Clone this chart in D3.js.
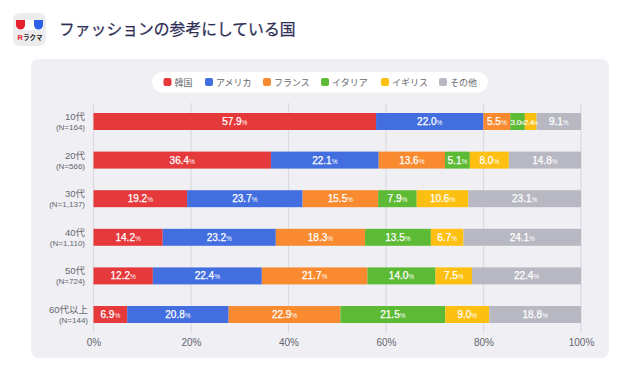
<!DOCTYPE html>
<html><head><meta charset="utf-8">
<script src="https://d3js.org/d3.v7.min.js"></script>
<style>html,body{margin:0;padding:0;background:#fff}svg{display:block}text{font-family:"Liberation Sans","Noto Sans CJK JP",sans-serif}</style>
</head><body><svg id="c" width="640" height="372"></svg>
<script>
const titleText = "ファッションの参考にしている国";
const seriesNames = ["韓国","アメリカ","フランス","イタリア","イギリス","その他"];
const seriesColors = ["#e5393b","#436ee0","#f98a2f","#5dba34","#fdc010","#b8b8c2"];
const ageLabels = ["10代","20代","30代","40代","50代","60代以上"];
const sampleLabels = ["(N=164)","(N=566)","(N=1,137)","(N=1,110)","(N=724)","(N=144)"];
const korea = [57.9,36.4,19.2,14.2,12.2,6.9];
const america = [22.0,22.1,23.7,23.2,22.4,20.8];
const france = [5.5,13.6,15.5,18.3,21.7,22.9];
const italy = [3.0,5.1,7.9,13.5,14.0,21.5];
const britain = [2.4,8.0,10.6,6.7,7.5,9.0];
const other = [9.1,14.8,23.1,24.1,22.4,18.8];
const seriesValues = [korea,america,france,italy,britain,other];
const tickValues = [0,20,40,60,80,100];

const svg = d3.select("#c");
svg.append("rect").attr("x",31).attr("y",59).attr("width",578).attr("height",299).attr("rx",8).attr("fill","#efeff4");

// logo
const logo = svg.append("g");
logo.append("rect").attr("x",13).attr("y",13).attr("width",33).attr("height",33).attr("rx",7).attr("fill","#ececee");
logo.append("rect").attr("x",16).attr("y",20).attr("width",27).attr("height",10).attr("fill","#fff");
logo.append("path").attr("d","M16 20h9v5a4.500 4.500 0 0 1-9 0z").attr("fill","#e3202c");
logo.append("path").attr("d","M34 20h9v5a4.500 4.500 0 0 1-9 0z").attr("fill","#2d62e8");
logo.append("text").attr("x",17.500).attr("y",40).attr("font-size",7.500).attr("font-weight",700).attr("fill","#e3202c").text("R");
logo.append("text").attr("x",23).attr("y",40).attr("font-size",6.500).attr("font-weight",700).attr("fill","#222").text("ラクマ");

svg.append("text").attr("x",59).attr("y",35).attr("font-size",15.800).attr("font-weight",400).attr("stroke","#2e2e55").attr("stroke-width",0.25).attr("fill","#2e2e55").text(titleText);

// legend
svg.append("rect").attr("x",152).attr("y",72).attr("width",336).attr("height",20.500).attr("rx",10.200).attr("fill","#fff");
const legendX = [163.500,205,263,321,381,439];
const legend = svg.append("g").selectAll("g").data(seriesNames).join("g").attr("transform",(d,i)=>`translate(${legendX[i]},78)`);
legend.append("rect").attr("width",8).attr("height",8).attr("rx",2).attr("fill",(d,i)=>seriesColors[i]);
legend.append("text").attr("x",11).attr("y",7.800).attr("font-size",9).attr("fill","#66666e").text(d=>d);

const x = d3.scaleLinear().domain([0,100]).range([93.5,581]);
const y = d3.scaleBand().domain(ageLabels).range([102.2,333.8]).paddingInner(0.56).paddingOuter(0.28);

// grid
svg.append("g").selectAll("line").data(tickValues).join("line")
  .attr("x1",d=>x(d)).attr("x2",d=>x(d)).attr("y1",103).attr("y2",333)
  .attr("stroke","#d9d9df").attr("stroke-width",1.2);

// axis
const axis = d3.axisBottom(x).tickValues(tickValues).tickFormat(d=>d+"%").tickSize(0).tickPadding(0);
const ax = svg.append("g").attr("transform","translate(0,338.500)").call(axis);
ax.select(".domain").remove();
ax.selectAll("text").attr("font-size",10).attr("fill","#66666e").attr("font-family",'"Liberation Sans"');

// bars
const rows = ageLabels.map((a,i)=>{const o={age:a};seriesNames.forEach((s,j)=>o[s]=seriesValues[j][i]);return o;});
const stacked = d3.stack().keys(seriesNames).offset(d3.stackOffsetExpand)(rows);
const groups = svg.append("g").selectAll("g").data(stacked).join("g").attr("fill",(d,i)=>seriesColors[i]);
groups.selectAll("rect").data(d=>d).join("rect")
  .attr("x",d=>x(d[0]*100)).attr("width",d=>x(d[1]*100)-x(d[0]*100))
  .attr("y",d=>y(d.data.age)).attr("height",y.bandwidth());

// value labels
const labels = svg.append("g");
stacked.forEach((s,j)=>s.forEach(d=>{
  const v = d.data[s.key];
  const small = v<3.5;
  const t = labels.append("text")
    .attr("x",(x(d[0]*100)+x(d[1]*100))/2).attr("y",y(d.data.age)+y.bandwidth()/2+3.5)
    .attr("text-anchor","middle").attr("fill","#fff").attr("font-weight",400)
    .attr("stroke","#fff").attr("stroke-width",small?0.15:0.25)
    .attr("font-size",small?8:10)
    .attr("letter-spacing",small?-0.3:0);
  t.append("tspan").text(v.toFixed(1));
  t.append("tspan").attr("font-size",small?4.500:6.500).attr("stroke-width",0).text("%");
}));

// row labels
const rl = svg.append("g").selectAll("g").data(ageLabels).join("g");
rl.append("text").attr("x",(d,i)=>i===5?88:85).attr("y",d=>y(d)+7).attr("text-anchor","end").attr("font-size",9.500).attr("fill","#66666e").text(d=>d);
rl.append("text").attr("x",(d,i)=>i===5?88:85).attr("y",d=>y(d)+17).attr("text-anchor","end").attr("font-size",8).attr("fill","#66666e").text((d,i)=>sampleLabels[i]);
</script></body></html>
